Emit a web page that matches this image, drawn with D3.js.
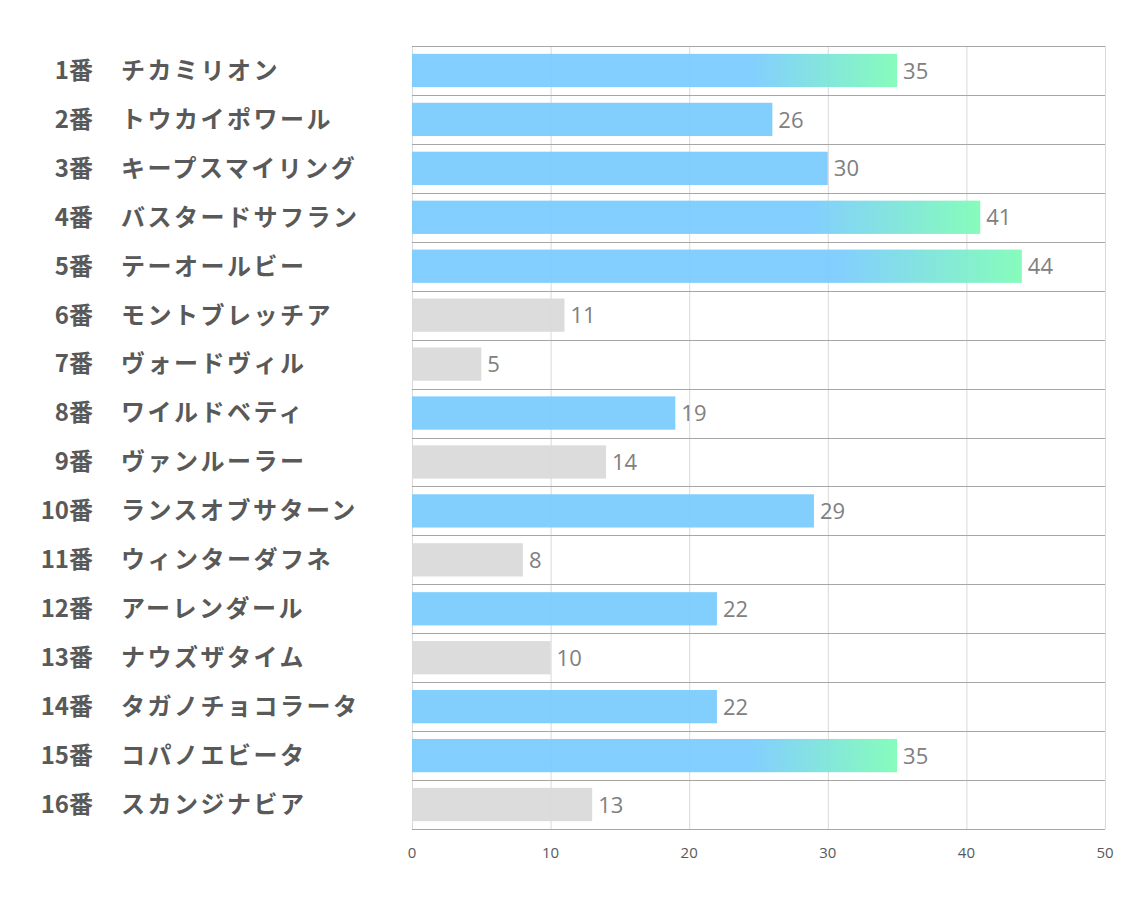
<!DOCTYPE html>
<html>
<head>
<meta charset="utf-8">
<script src="https://cdn.jsdelivr.net/npm/d3@7"></script>
<style>
  body { margin: 0; background: #fff; }
  svg { display: block; }
</style>
</head>
<body>
<svg width="1134" height="907"></svg>
<script>
/* --------------- Datos --------------- */
const numeros = ["1番","2番","3番","4番","5番","6番","7番","8番","9番","10番","11番","12番","13番","14番","15番","16番"];
const nombres = ["チカミリオン","トウカイポワール","キープスマイリング","バスタードサフラン","テーオールビー",
  "モントブレッチア","ヴォードヴィル","ワイルドベティ","ヴァンルーラー","ランスオブサターン",
  "ウィンターダフネ","アーレンダール","ナウズザタイム","タガノチョコラータ","コパノエビータ","スカンジナビア"];
const valores = [35, 26, 30, 41, 44, 11, 5, 19, 14, 29, 8, 22, 10, 22, 35, 13];
const ticks = [0, 10, 20, 30, 40, 50];

const svg = d3.select("svg");
const izq = 412, der = 1105, arriba = 46, abajo = 829;

const x = d3.scaleLinear().domain([0, 50]).range([izq, der]);
const y = d3.scaleBand().domain(d3.range(valores.length)).range([arriba, abajo]).paddingInner(0.32).paddingOuter(0.16);
const paso = (abajo - arriba) / valores.length;

// gradiente para los valores altos
const grad = svg.append("defs").append("linearGradient")
    .attr("id", "grad").attr("x1", 0).attr("x2", 1).attr("y1", 0).attr("y2", 0);
grad.append("stop").attr("offset", "0.7").attr("stop-color", "#79cbfe");
grad.append("stop").attr("offset", "1").attr("stop-color", "#7dfcb6");

function colorDe(v) {
    if (v > 30) return "url(#grad)";
    if (v >= 15) return "#79cbfe";
    return "#d9d9d9";
}

// lineas de cuadricula verticales
svg.append("g").selectAll("line")
    .data(ticks)
    .enter().append("line")
    .attr("x1", d => x(d) + 0.5).attr("x2", d => x(d) + 0.5)
    .attr("y1", arriba).attr("y2", abajo)
    .attr("stroke", "#d9d9d9").attr("stroke-width", 1);

// barras
svg.append("g").selectAll("rect")
    .data(valores)
    .enter().append("rect")
    .attr("x", x(0))
    .attr("y", (d, i) => y(i))
    .attr("width", d => x(d) - x(0))
    .attr("height", y.bandwidth())
    .attr("fill", d => colorDe(d))
    .attr("fill-opacity", 0.93);

// separadores de filas
svg.append("g").selectAll("line")
    .data(d3.range(valores.length + 1))
    .enter().append("line")
    .attr("x1", izq).attr("x2", der)
    .attr("y1", i => Math.round(arriba + i * paso) + 0.5)
    .attr("y2", i => Math.round(arriba + i * paso) + 0.5)
    .attr("stroke", "#a6a6a6").attr("stroke-width", 1);

// etiquetas de valor
svg.append("g").selectAll("text")
    .data(valores)
    .enter().append("text")
    .attr("x", d => x(d) + 6)
    .attr("y", (d, i) => y(i) + y.bandwidth() / 2)
    .attr("dy", "0.37em")
    .attr("font-family", "'Open Sans', 'Noto Sans', sans-serif")
    .attr("font-size", 22)
    .attr("fill", "#808080")
    .text(d => d);

// etiquetas de categoria
const cat = svg.append("g")
    .attr("font-family", "'Noto Sans CJK JP', sans-serif")
    .attr("font-weight", "bold")
    .attr("font-size", 24)
    .attr("fill", "#595959");

cat.selectAll(".num")
    .data(numeros)
    .enter().append("text")
    .attr("class", "num")
    .attr("x", 93)
    .attr("y", (d, i) => y(i) + y.bandwidth() / 2)
    .attr("dy", "0.35em")
    .attr("text-anchor", "end")
    .text(d => d);

cat.selectAll(".nom")
    .data(nombres)
    .enter().append("text")
    .attr("class", "nom")
    .attr("x", 121)
    .attr("y", (d, i) => y(i) + y.bandwidth() / 2)
    .attr("dy", "0.35em")
    .attr("letter-spacing", 2.5)
    .text(d => d);

// eje x
svg.append("g").selectAll("text")
    .data(ticks)
    .enter().append("text")
    .attr("x", d => x(d))
    .attr("y", 858)
    .attr("text-anchor", "middle")
    .attr("font-family", "'Open Sans', 'Noto Sans', sans-serif")
    .attr("font-size", 15)
    .attr("fill", "#595959")
    .text(d => d);
</script>
</body>
</html>
